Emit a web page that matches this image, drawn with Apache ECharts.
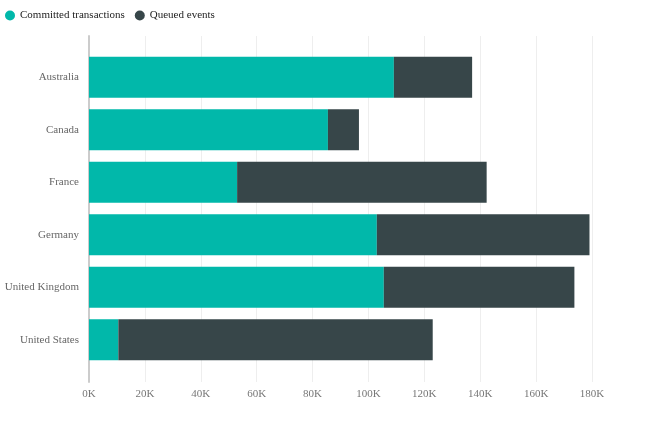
<!DOCTYPE html>
<html><head><meta charset="utf-8">
<script src="https://cdn.jsdelivr.net/npm/echarts@6/dist/echarts.min.js"></script>
<style>html,body{margin:0;padding:0;background:#fff}#c{width:651px;height:427px}</style>
</head><body><div id="c"></div>
<script>
const categories = ["Australia","Canada","France","Germany","United Kingdom","United States"];
const committed = [109.1, 85.5, 53.0, 103.0, 105.5, 10.5];
const queued = [28.0, 11.1, 89.3, 76.1, 68.2, 112.5];
const xTicks = [0,20,40,60,80,100,120,140,160,180];
const font = "'Liberation Serif', 'Times New Roman', serif";
const chart = echarts.init(document.getElementById('c'));
chart.setOption({
  animation:false,
  textStyle:{fontFamily:font},
  legend:{left:0,top:5,icon:'circle',itemWidth:10,itemHeight:10,itemGap:10,
    textStyle:{fontFamily:font,fontSize:11,color:'#222'},
    data:['Committed transactions','Queued events']},
  grid:[
    {left:89,right:59,top:51,bottom:61,containLabel:false,outerBoundsMode:'none'},
    {left:89,right:59,top:36,bottom:45,containLabel:false,outerBoundsMode:'none'}
  ],
  xAxis:[
    {gridIndex:0,type:'value',min:0,max:180,interval:20,show:false},
    {gridIndex:1,type:'value',min:xTicks[0],max:xTicks[xTicks.length-1],interval:20,
      axisLine:{show:false},axisTick:{show:false},
      splitLine:{show:true,lineStyle:{color:'#eeeeee',width:1}},
      axisLabel:{color:'#777',fontSize:11,fontFamily:font,margin:7,formatter:v=>v+'K'}}
  ],
  yAxis:[
    {gridIndex:0,type:'category',inverse:true,data:categories,
      axisLine:{show:false},axisTick:{show:false},
      axisLabel:{color:'#666',fontSize:11,fontFamily:font,margin:10}},
    {gridIndex:1,type:'value',min:0,max:1,
      axisLine:{show:true,lineStyle:{color:'#cccccc',width:2}},
      axisTick:{show:false},axisLabel:{show:false},splitLine:{show:false}}
  ],
  series:[
    {name:'Committed transactions',type:'bar',stack:'a',xAxisIndex:0,yAxisIndex:0,
      data:committed,barWidth:'78%',itemStyle:{color:'#01B8AA'}},
    {name:'Queued events',type:'bar',stack:'a',xAxisIndex:0,yAxisIndex:0,
      data:queued,barWidth:'78%',itemStyle:{color:'#374649'}}
  ]
});
</script></body></html>
